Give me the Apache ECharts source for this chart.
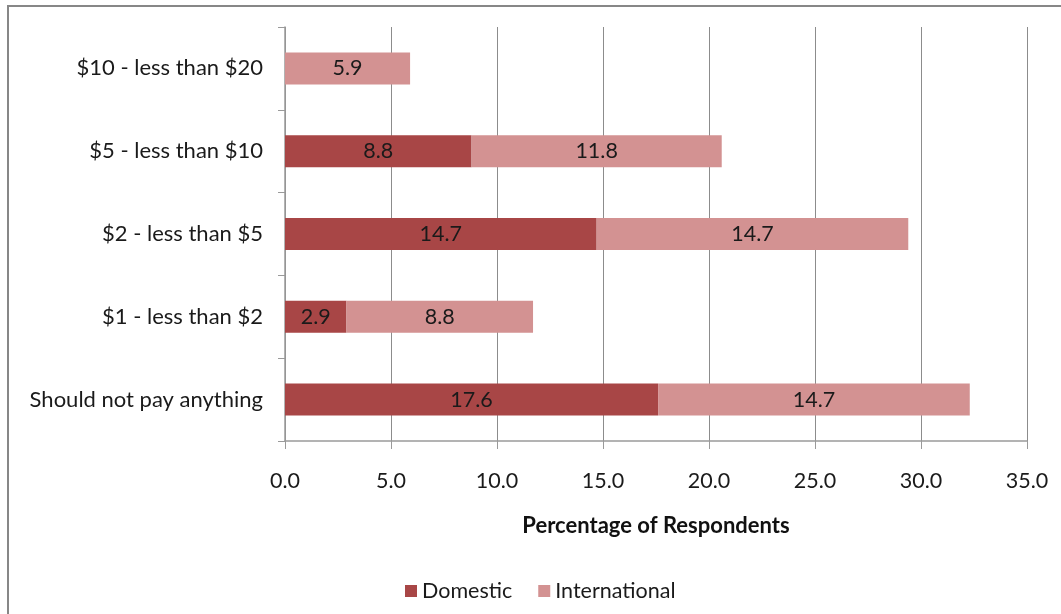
<!DOCTYPE html>
<html>
<head>
<meta charset="utf-8">
<script src="https://cdn.jsdelivr.net/npm/echarts@6/dist/echarts.min.js"></script>
<style>
  html, body { margin: 0; padding: 0; background: #fff; overflow: hidden; }
  #chart { width: 1061px; height: 614px; }
</style>
</head>
<body>
<div id="chart"></div>
<script>
// categories bottom -> top (echarts category axis order)
const categories = [
  'Should not pay anything',
  '$1 - less than $2',
  '$2 - less than $5',
  '$5 - less than $10',
  '$10 - less than $20',
];
const domestic = [17.6, 2.9, 14.7, 8.8, 0];
const international = [14.7, 8.8, 14.7, 11.8, 5.9];
const xTicks = [0, 35, 5];

const FONT = 'Lato, "Open Sans", sans-serif';
const AXIS_GRAY = '#9a9a9a';
const FS = 21.5;

const chart = echarts.init(document.getElementById('chart'), null, { renderer: 'canvas' });

const barLabel = {
  show: true,
  position: 'inside',
  color: '#1a1a1a',
  fontFamily: FONT,
  fontSize: FS,
  formatter: (p) => (p.value ? p.value.toFixed(1) : ''),
};

chart.setOption({
  animation: false,
  textStyle: { fontFamily: FONT },
  graphic: [
    {
      type: 'rect',
      shape: { x: 8, y: 6, width: 1200, height: 800 },
      style: { fill: 'none', stroke: '#878787', lineWidth: 2 },
      silent: true,
    },
  ],
  grid: { left: 285, right: 34, top: 27, bottom: 173 },
  legend: {
    top: 575,
    left: 400,
    itemWidth: 12,
    itemHeight: 12,
    itemGap: 26,
    icon: 'rect',
    textStyle: { fontFamily: FONT, fontSize: FS, color: '#1a1a1a' },
    data: ['Domestic', 'International'],
  },
  xAxis: {
    type: 'value',
    min: xTicks[0],
    max: xTicks[1],
    interval: xTicks[2],
    name: 'Percentage of Respondents',
    nameLocation: 'middle',
    nameGap: 74,
    nameTextStyle: { fontFamily: FONT, fontSize: 22, fontWeight: 'bold', color: '#111' },
    axisLine: { show: true, lineStyle: { color: AXIS_GRAY, width: 1.5 } },
    axisTick: { show: true, length: 8, lineStyle: { color: AXIS_GRAY } },
    axisLabel: {
      margin: 29,
      fontFamily: FONT,
      fontSize: FS,
      color: '#1a1a1a',
      formatter: (v) => v.toFixed(1),
    },
    splitLine: { show: true, lineStyle: { color: '#8c8c8c', width: 1 } },
  },
  yAxis: {
    type: 'category',
    data: categories,
    axisLine: { show: true, lineStyle: { color: AXIS_GRAY, width: 1.5 } },
    axisTick: { show: true, length: 7, lineStyle: { color: AXIS_GRAY } },
    axisLabel: { margin: 22, fontFamily: FONT, fontSize: 22, color: '#1a1a1a' },
  },
  series: [
    {
      name: 'Domestic',
      type: 'bar',
      stack: 'total',
      data: domestic,
      barWidth: 32,
      itemStyle: { color: '#a84646' },
      label: barLabel,
    },
    {
      name: 'International',
      type: 'bar',
      stack: 'total',
      data: international,
      barWidth: 32,
      itemStyle: { color: '#d39292' },
      label: barLabel,
    },
  ],
});
</script>
</body>
</html>
